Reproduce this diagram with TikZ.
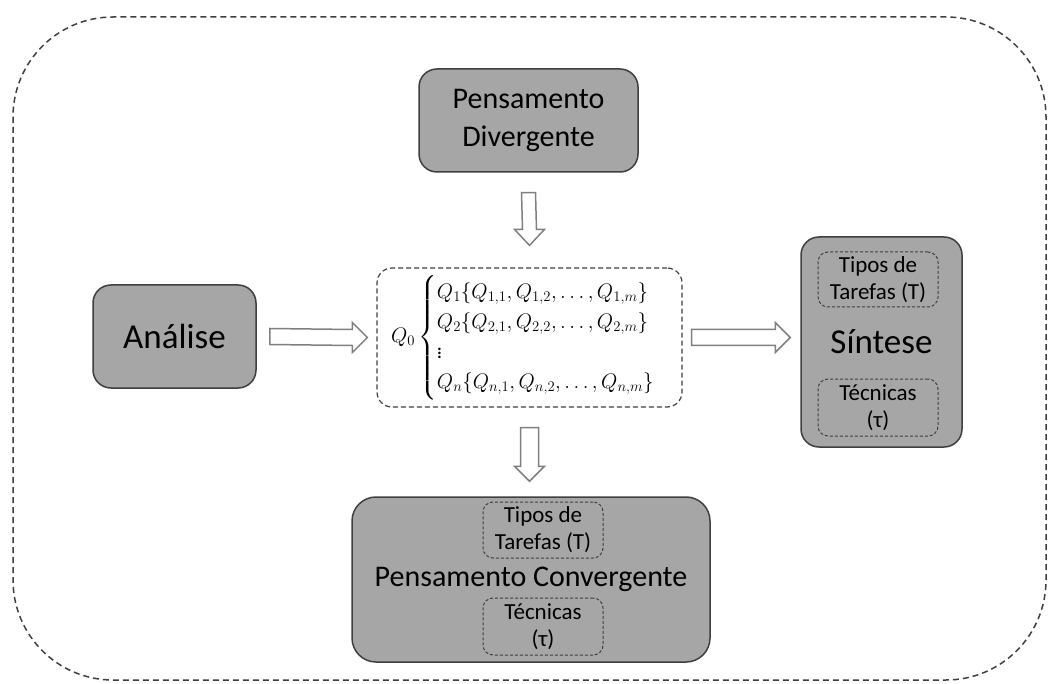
\RequirePackage{fix-cm}
\documentclass[tikz,border=0pt]{standalone}
\usepackage{amsmath}
\usepackage{fontspec}
\setmainfont{Carlito}
\usetikzlibrary{calc}
\definecolor{boxgray}{HTML}{A6A6A6}
\definecolor{edgegray}{HTML}{3F3F3F}
\definecolor{arrowgray}{HTML}{808080}

\tikzset{
  block/.style={draw=edgegray, line width=1.5pt, fill=boxgray, rounded corners=18pt,
    align=center, inner sep=0pt},
  inbox/.style={draw=edgegray, dash pattern=on 3pt off 2pt, line width=1pt, fill=boxgray,
    rounded corners=10pt, align=center, inner sep=0pt, minimum width=120pt,
    font=\fontsize{23}{27}\selectfont},
  blockarrow/.style={draw=arrowgray, fill=white, line width=1.5pt, line join=miter}
}

\begin{document}
\begin{tikzpicture}[x=1pt,y=-1pt]
\useasboundingbox (0,0) rectangle (1049,684);

% frame
\draw[edgegray, line width=1.5pt, dash pattern=on 6pt off 4pt, rounded corners=100pt]
  (13,17) rectangle (1046,680);

\node[block, minimum width=219pt, minimum height=103pt,
  font=\fontsize{30}{38}\selectfont] (div) at (528.5,120.5) {Pensamento\\Divergente};
\node[block, minimum width=163pt, minimum height=103pt,
  font=\fontsize{35}{40}\selectfont] (ana) at (174.5,336.5) {Análise};

\node[draw=edgegray, line width=1.2pt, dash pattern=on 5pt off 3pt, rounded corners=15pt,
  minimum width=305pt, minimum height=139pt, inner sep=0pt,
  font=\fontsize{21}{25}\selectfont] (q) at (529.5,337.5)
  {\hspace*{8pt}\raisebox{-6pt}{$Q_0\begin{cases}
    Q_1\{Q_{1,1},Q_{1,2},\dots,Q_{1,m}\}\\
    Q_2\{Q_{2,1},Q_{2,2},\dots,Q_{2,m}\}\\
    \vdots\\
    Q_n\{Q_{n,1},Q_{n,2},\dots,Q_{n,m}\}
  \end{cases}$}};

\node[block, minimum width=161pt, minimum height=210pt,
  font=\fontsize{35}{40}\selectfont] (sin) at (881.5,342) {Síntese};
\node[inbox, minimum height=55pt] (sintip) at (878,279.5) {Tipos de\\Tarefas (T)};
\node[inbox, minimum height=57pt] (sintec) at (878,407.5) {Técnicas\\(τ)};

\node[block, rounded corners=24pt, minimum width=358pt, minimum height=165pt,
  font=\fontsize{30}{36}\selectfont] (conv) at (531,579.5) {Pensamento Convergente};
\node[inbox, minimum height=56pt] (convtip) at (543,530) {Tipos de\\Tarefas (T)};
\node[inbox, minimum height=57pt] (convtec) at (543,626.5) {Técnicas\\(τ)};

% block arrows
\coordinate (a1) at ($(ana.east)+(13,0)$);
\coordinate (b1) at ($(q.west)+(-9,0)$);
\draw[blockarrow] ($(a1)+(0,-8)$) -- ($(b1)+(-15,-8)$) -- ($(b1)+(-15,-15)$) -- (b1)
  -- ($(b1)+(-15,15)$) -- ($(b1)+(-15,8)$) -- ($(a1)+(0,8)$) -- cycle;

\coordinate (a2) at ($(q.east)+(9,0)$);
\coordinate (b2) at ($(sin.west |- q.east)+(-10,0)$);
\draw[blockarrow] ($(a2)+(0,-8)$) -- ($(b2)+(-15,-8)$) -- ($(b2)+(-15,-15)$) -- (b2)
  -- ($(b2)+(-15,15)$) -- ($(b2)+(-15,8)$) -- ($(a2)+(0,8)$) -- cycle;

\coordinate (a3) at ($(div.south)+(0,20)$);
\coordinate (b3) at ($(q.north)+(0,-22)$);
\draw[blockarrow] ($(a3)+(-7,0)$) -- ($(b3)+(-7,-16)$) -- ($(b3)+(-15,-16)$) -- (b3)
  -- ($(b3)+(15,-16)$) -- ($(b3)+(7,-16)$) -- ($(a3)+(7,0)$) -- cycle;

\coordinate (a4) at ($(q.south)+(0,20)$);
\coordinate (b4) at ($(q.south |- conv.north)+(0,-15)$);
\draw[blockarrow] ($(a4)+(-9,0)$) -- ($(b4)+(-9,-15)$) -- ($(b4)+(-15,-15)$) -- (b4)
  -- ($(b4)+(15,-15)$) -- ($(b4)+(9,-15)$) -- ($(a4)+(9,0)$) -- cycle;

\end{tikzpicture}
\end{document}
